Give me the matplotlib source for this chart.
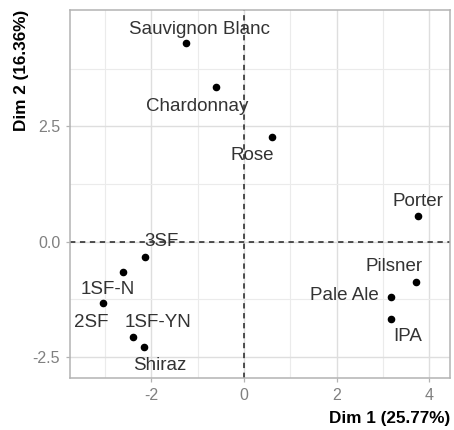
import matplotlib.pyplot as plt
import numpy as np

plt.rcParams['font.family'] = ['Liberation Sans', 'DejaVu Sans']

# coordonnées des individus
noms = ["Sauvignon Blanc", "Chardonnay", "Rose", "Porter", "3SF", "1SF-N",
        "2SF", "1SF-YN", "Shiraz", "Pilsner", "Pale Ale", "IPA"]
dim1 = [-1.25, -0.61, 0.60, 3.77, -2.13, -2.62, -3.05, -2.40, -2.17, 3.71, 3.17, 3.17]
dim2 = [4.32, 3.35, 2.26, 0.56, -0.33, -0.66, -1.34, -2.08, -2.29, -0.87, -1.21, -1.68]
# position des étiquettes (décalées comme ggrepel)
lab_x = [-0.95, -1.02, 0.17, 3.76, -1.78, -2.94, -3.29, -1.86, -1.81, 3.24, 2.18, 3.53]
lab_y = [4.61, 2.94, 1.87, 0.87, 0.0, -1.03, -1.75, -1.75, -2.69, -0.54, -1.17, -2.06]

xticks = [-2, 0, 2, 4]
yticks = [-2.5, 0.0, 2.5]

fig = plt.figure(figsize=(4.54, 4.30), dpi=100)
ax = fig.add_axes([0.154, 0.121, 0.837, 0.856])

ax.set_xlim(-3.76, 4.45)
ax.set_ylim(-2.96, 5.03)
ax.set_xticks(xticks)
ax.set_xticklabels([str(t) for t in xticks])
ax.set_yticks(yticks)
ax.set_yticklabels(["%.1f" % t for t in yticks])
ax.set_xticks([-3, -1, 1, 3], minor=True)
ax.set_yticks([-1.25, 1.25, 3.75], minor=True)
ax.grid(True, which='major', color='#dedede', lw=1.0)
ax.grid(True, which='minor', color='#ebebeb', lw=0.8)
ax.set_axisbelow(True)
for s in ax.spines.values():
    s.set_color('#b3b3b3')
    s.set_linewidth(1.1)
ax.tick_params(which='major', length=3, width=0.9, color='#b3b3b3',
               labelcolor='#808080', labelsize=11.5, pad=4)
ax.tick_params(which='minor', length=0)

ax.axhline(0, color='#222222', ls='--', lw=1.1, dashes=(3.5, 3))
ax.axvline(0, color='#222222', ls='--', lw=1.1, dashes=(3.5, 3))

ax.scatter(dim1, dim2, s=20, color='black', zorder=3)
for n, x, y in zip(noms, lab_x, lab_y):
    ax.text(x, y, n, ha='center', va='center', fontsize=13.5, color='#333333', zorder=4)

ax.set_xlabel("Dim 1 (25.77%)", loc='right', fontweight='bold', fontsize=12.3, labelpad=6)
ax.set_ylabel("Dim 2 (16.36%)", loc='top', fontweight='bold', fontsize=12.3, labelpad=3)

fig.savefig("out.png", dpi=100)
